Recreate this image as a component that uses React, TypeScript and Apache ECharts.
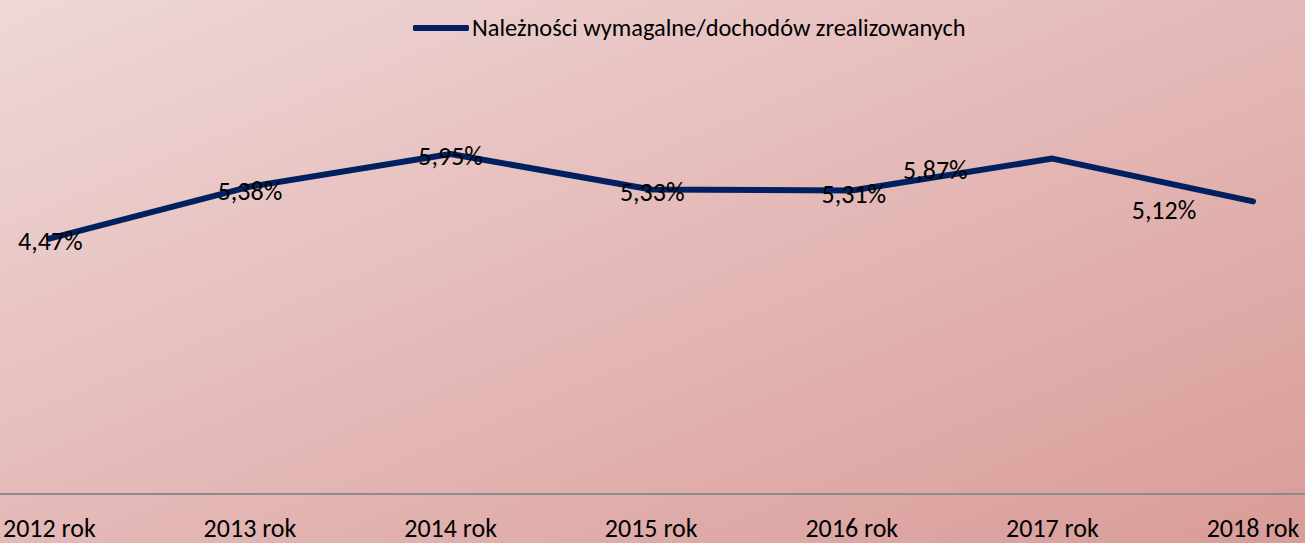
import React, { useEffect, useRef } from "react";
import * as echarts from "echarts";

const categories = ["2012 rok", "2013 rok", "2014 rok", "2015 rok", "2016 rok", "2017 rok", "2018 rok"];
const seriesName = "Należności wymagalne/dochodów zrealizowanych";
const values = [4.47, 5.38, 5.95, 5.33, 5.31, 5.87, 5.12];
// manual label offsets (as moved in the source chart)
const labelOffsets: [number, number][] = [
  [1, 2],
  [0, 4],
  [0, 2],
  [1, 3],
  [2, 3],
  [-117, 11],
  [-89, 9],
];

const FONT = "Carlito, Lato, 'Open Sans', sans-serif";

export default function App() {
  const ref = useRef<HTMLDivElement>(null);
  useEffect(() => {
    if (!ref.current) return;
    const chart = echarts.init(ref.current, undefined, { renderer: "svg" });
    chart.setOption({
      animation: false,
      backgroundColor: {
        type: "linear",
        x: 0,
        y: 0,
        x2: 1,
        y2: 1,
        colorStops: [
          { offset: 0, color: "#efd7d8" },
          { offset: 0.5, color: "#e4b9b7" },
          { offset: 1, color: "#d99c98" },
        ],
      },
      textStyle: { fontFamily: FONT },
      legend: {
        top: 11,
        left: 408,
        itemWidth: 56,
        itemHeight: 6,
        itemGap: 10,
        icon: "roundRect",
        textStyle: { fontSize: 24.4, color: "#000", fontFamily: FONT, padding: [0, 0, 0, -2] },
        data: [{ name: seriesName, itemStyle: { color: "#002060" } }],
      },
      grid: { left: 48, right: 52, top: 94, bottom: 49 },
      xAxis: {
        type: "category",
        data: categories,
        boundaryGap: false,
        axisLine: { show: false },
        axisTick: { show: false },
        axisLabel: { color: "#000", fontSize: 26, lineHeight: 24, margin: 22, fontFamily: FONT },
      },
      yAxis: {
        type: "value",
        min: 0,
        max: 7,
        show: false,
        splitLine: { show: false },
      },
      graphic: [
        {
          type: "line",
          shape: { x1: 0, y1: 494, x2: 1305, y2: 494 },
          style: { stroke: "#8c8c8c", lineWidth: 2 },
          silent: true,
        },
      ],
      series: [
        {
          name: seriesName,
          type: "line",
          data: values.map((v, i) => ({
            value: v,
            label: { offset: labelOffsets[i] },
          })),
          symbol: "circle",
          symbolSize: 1,
          showSymbol: true,
          lineStyle: { color: "#002060", width: 6, join: "round", cap: "round" },
          itemStyle: { color: "rgba(0,32,96,0)" },
          label: {
            show: true,
            position: "inside",
            color: "#000",
            fontSize: 26,
            fontFamily: FONT,
            formatter: (p: any) => p.value.toFixed(2).replace(".", ",") + "%",
          },
        },
      ],
    });
    return () => chart.dispose();
  }, []);
  return <div ref={ref} style={{ width: 1305, height: 543, position: "absolute", left: 0, top: 0 }} />;
}
